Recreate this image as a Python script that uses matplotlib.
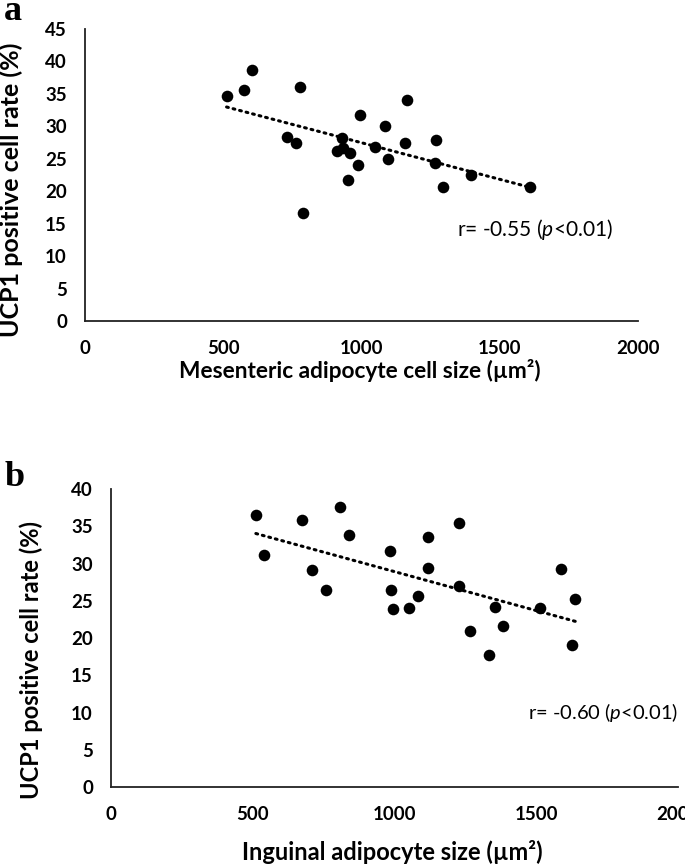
import matplotlib
matplotlib.use("Agg")
import matplotlib.pyplot as plt
import numpy as np

plt.rcParams['font.family'] = ['Lato', 'DejaVu Sans']
plt.rcParams['mathtext.fontset'] = 'custom'
plt.rcParams['mathtext.it'] = 'Lato:italic'
plt.rcParams['mathtext.rm'] = 'Lato'

# panel a: mesenteric adipocytes
mes_size = [512, 575, 603, 776, 731, 764, 790, 910, 932, 958, 931, 952, 988, 994,
            1049, 1085, 1095, 1157, 1163, 1265, 1268, 1296, 1397, 1609]
mes_ucp1 = [34.7, 35.6, 38.7, 36.1, 28.4, 27.4, 16.6, 26.2, 26.6, 25.9, 28.2, 21.7, 24.1, 31.8,
            26.8, 30.1, 25.0, 27.5, 34.1, 24.4, 27.9, 20.7, 22.5, 20.7]

# panel b: inguinal adipocytes
ing_size = [511, 541, 674, 708, 757, 807, 840, 985, 988, 995, 1051, 1082, 1117, 1117,
            1228, 1228, 1267, 1332, 1356, 1381, 1514, 1588, 1627, 1638]
ing_ucp1 = [36.5, 31.1, 35.9, 29.1, 26.4, 37.6, 33.8, 31.7, 26.4, 23.9, 24.0, 25.7, 33.6, 29.4,
            35.5, 27.0, 21.0, 17.7, 24.2, 21.6, 24.0, 29.2, 19.0, 25.2]

fig = plt.figure(figsize=(6.85, 8.64), dpi=100)

def panel(rect, xs, ys, ymax, xlabel, xl_size, xl_pos, yl_size, yl_pos, note, note_size, note_xy, letter, letter_y):
    ax = fig.add_axes(rect)
    ax.scatter(xs, ys, s=70, color='black', zorder=3, linewidths=0)
    k, b = np.polyfit(xs, ys, 1)  # linear trendline
    xl = np.array([min(xs), max(xs)])
    ax.plot(xl, k * xl + b, color='black', lw=2.2, linestyle=(0, (0.6, 1.6)),
            dash_capstyle='round', zorder=2)
    ax.set_xlim(0, 2000)
    ax.set_ylim(0, ymax)
    ax.set_xticks([0, 500, 1000, 1500, 2000])
    ax.set_yticks(np.arange(0, ymax + 1, 5))
    for s in ['top', 'right']:
        ax.spines[s].set_visible(False)
    for s in ['left', 'bottom']:
        ax.spines[s].set_linewidth(1.3)
        ax.spines[s].set_color('#222222')
    ax.tick_params(length=0, labelsize=13.5)
    ax.tick_params(axis='x', pad=14)
    ax.tick_params(axis='y', pad=13)
    for t in ax.get_xticklabels() + ax.get_yticklabels():
        t.set_fontweight('bold')
    ax.set_ylabel('UCP1 positive cell rate (%)', fontsize=yl_size, fontweight='bold')
    ax.yaxis.set_label_coords(*yl_pos)
    ax.set_xlabel(xlabel, fontsize=xl_size, fontweight='bold')
    ax.xaxis.set_label_coords(*xl_pos)
    ax.xaxis.label.set_va('center')
    ax.yaxis.label.set_va('center')
    ax.text(note_xy[0], note_xy[1], note, fontsize=note_size, va='center', ha='left')
    fig.text(0.006, letter_y, letter, fontsize=26, fontweight='bold',
             family='Liberation Serif', va='baseline', ha='left')
    return ax

panel([0.1241, 0.6285, 0.8073, 0.3379], mes_size, mes_ucp1, 45,
      'Mesenteric adipocyte cell size (µm²)', 16.3, (0.497, -0.168), 18, (-0.134, 0.449),
      r'r= -0.55 ($\mathit{p}$<0.01)', 15, (1345, 14.1), 'a', 0.977)
panel([0.162, 0.0891, 0.8278, 0.3449], ing_size, ing_ucp1, 40,
      'Inguinal adipocyte size (µm²)', 17, (0.497, -0.218), 17, (-0.141, 0.426),
      r'r= -0.60 ($\mathit{p}$<0.01)', 14.5, (1472, 10.0), 'b', 0.4375)

fig.savefig('out.png', dpi=100)
